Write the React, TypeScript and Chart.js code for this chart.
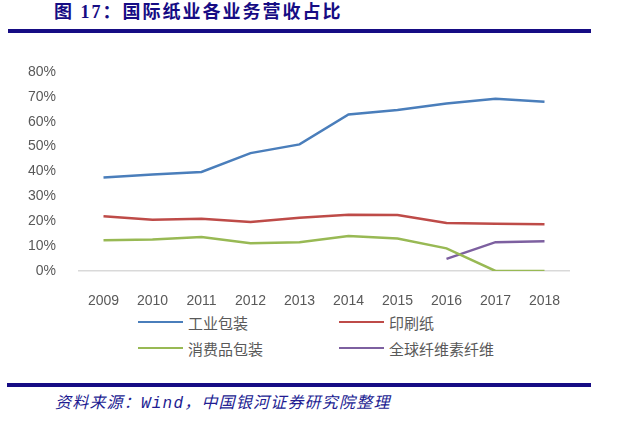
import { useEffect, useRef } from "react";
import { Chart, registerables } from "chart.js";

Chart.register(...registerables);

const years = ["2009", "2010", "2011", "2012", "2013", "2014", "2015", "2016", "2017", "2018"];
const industrialPack = [37.6, 38.8, 39.8, 47.4, 50.9, 62.9, 64.7, 67.3, 69.2, 68.0];
const printingPaper = [22.0, 20.6, 21.0, 19.7, 21.4, 22.6, 22.5, 19.3, 19.0, 18.8];
const consumerPack = [12.4, 12.7, 13.7, 11.2, 11.6, 14.1, 13.1, 9.1, 0, 0];
const cellulose = [null, null, null, null, null, null, null, 4.9, 11.6, 12.0];
const yTicks = [0, 10, 20, 30, 40, 50, 60, 70, 80];

const series = [
  { name: "工业包装", data: industrialPack, color: "#4a7ebb" },
  { name: "印刷纸", data: printingPaper, color: "#be4b48" },
  { name: "消费品包装", data: consumerPack, color: "#98b954" },
  { name: "全球纤维素纤维", data: cellulose, color: "#7d60a0" },
];

const navy = "#160c84";

export default function App() {
  const canvasRef = useRef<HTMLCanvasElement>(null);
  const chartRef = useRef<Chart | null>(null);

  useEffect(() => {
    if (!canvasRef.current) return;
    if (chartRef.current) chartRef.current.destroy();

    chartRef.current = new Chart(canvasRef.current, {
      type: "line",
      data: {
        labels: years,
        datasets: series.map(s => ({
          label: s.name,
          data: s.data,
          borderColor: s.color,
          backgroundColor: s.color,
          borderWidth: 2.5,
          pointRadius: 0,
          tension: 0,
          spanGaps: false,
        })),
      },
      options: {
        animation: false,
        responsive: true,
        maintainAspectRatio: false,
        layout: { padding: { top: 32, right: 31, left: 0, bottom: 0 } },
        plugins: {
          legend: { display: false },
          tooltip: { enabled: false },
        },
        scales: {
          x: {
            offset: true,
            grid: { display: false },
            border: { display: true, color: "#d9d9d9", width: 1.5 },
            ticks: {
              color: "#595959",
              padding: 14,
              font: { family: "Liberation Sans", size: 14 },
              maxRotation: 0,
            },
            afterFit: (scale: any) => { scale.height = 39; },
          },
          y: {
            min: 0,
            max: 80,
            grid: { display: false },
            border: { display: false },
            afterBuildTicks: (scale: any) => {
              scale.ticks = yTicks.map(v => ({ value: v }));
            },
            ticks: {
              color: "#595959",
              padding: 15,
              font: { family: "Liberation Sans", size: 14 },
              callback: (v: any) => v + "%",
            },
            afterFit: (scale: any) => { scale.width = 79; },
          },
        },
      },
    });

    return () => {
      if (chartRef.current) {
        chartRef.current.destroy();
        chartRef.current = null;
      }
    };
  }, []);

  const legendText = { fontFamily: "'Noto Sans CJK SC'", fontSize: 15, color: "#595959" };

  return (
    <div style={{ position: "fixed", left: 0, top: 0, width: 625, height: 426, background: "#fff" }}>
      <div
        style={{
          position: "absolute",
          left: 54,
          top: 2,
          fontFamily: "'Liberation Serif', 'Noto Sans CJK SC'",
          fontWeight: 700,
          fontSize: 18,
          lineHeight: "20px",
          letterSpacing: 2,
          color: navy,
          whiteSpace: "nowrap",
        }}
      >
        图 17：国际纸业各业务营收占比
      </div>
      <div style={{ position: "absolute", left: 8, top: 29, width: 583, height: 4, background: navy }} />

      <div style={{ position: "absolute", left: 0, top: 40, width: 600, height: 270 }}>
        <canvas ref={canvasRef} />
      </div>

      {series.map((s, i) => (
        <div
          key={s.name}
          style={{
            position: "absolute",
            left: i % 2 === 0 ? 138 : 339,
            top: i < 2 ? 312 : 338,
            height: 20,
            display: "flex",
            alignItems: "center",
            whiteSpace: "nowrap",
          }}
        >
          <div style={{ width: 45, height: 2.5, background: s.color, marginRight: 5 }} />
          <span style={legendText}>{s.name}</span>
        </div>
      ))}

      <div style={{ position: "absolute", left: 7, top: 383, width: 584, height: 4, background: navy }} />
      <div
        style={{
          position: "absolute",
          left: 55,
          top: 394,
          fontFamily: "'Liberation Mono', 'Noto Sans CJK SC'",
          fontStyle: "italic",
          fontSize: 16,
          lineHeight: "20px",
          letterSpacing: 1.2,
          color: "#221c92",
          whiteSpace: "nowrap",
        }}
      >
        资料来源：Wind，中国银河证券研究院整理
      </div>
    </div>
  );
}
